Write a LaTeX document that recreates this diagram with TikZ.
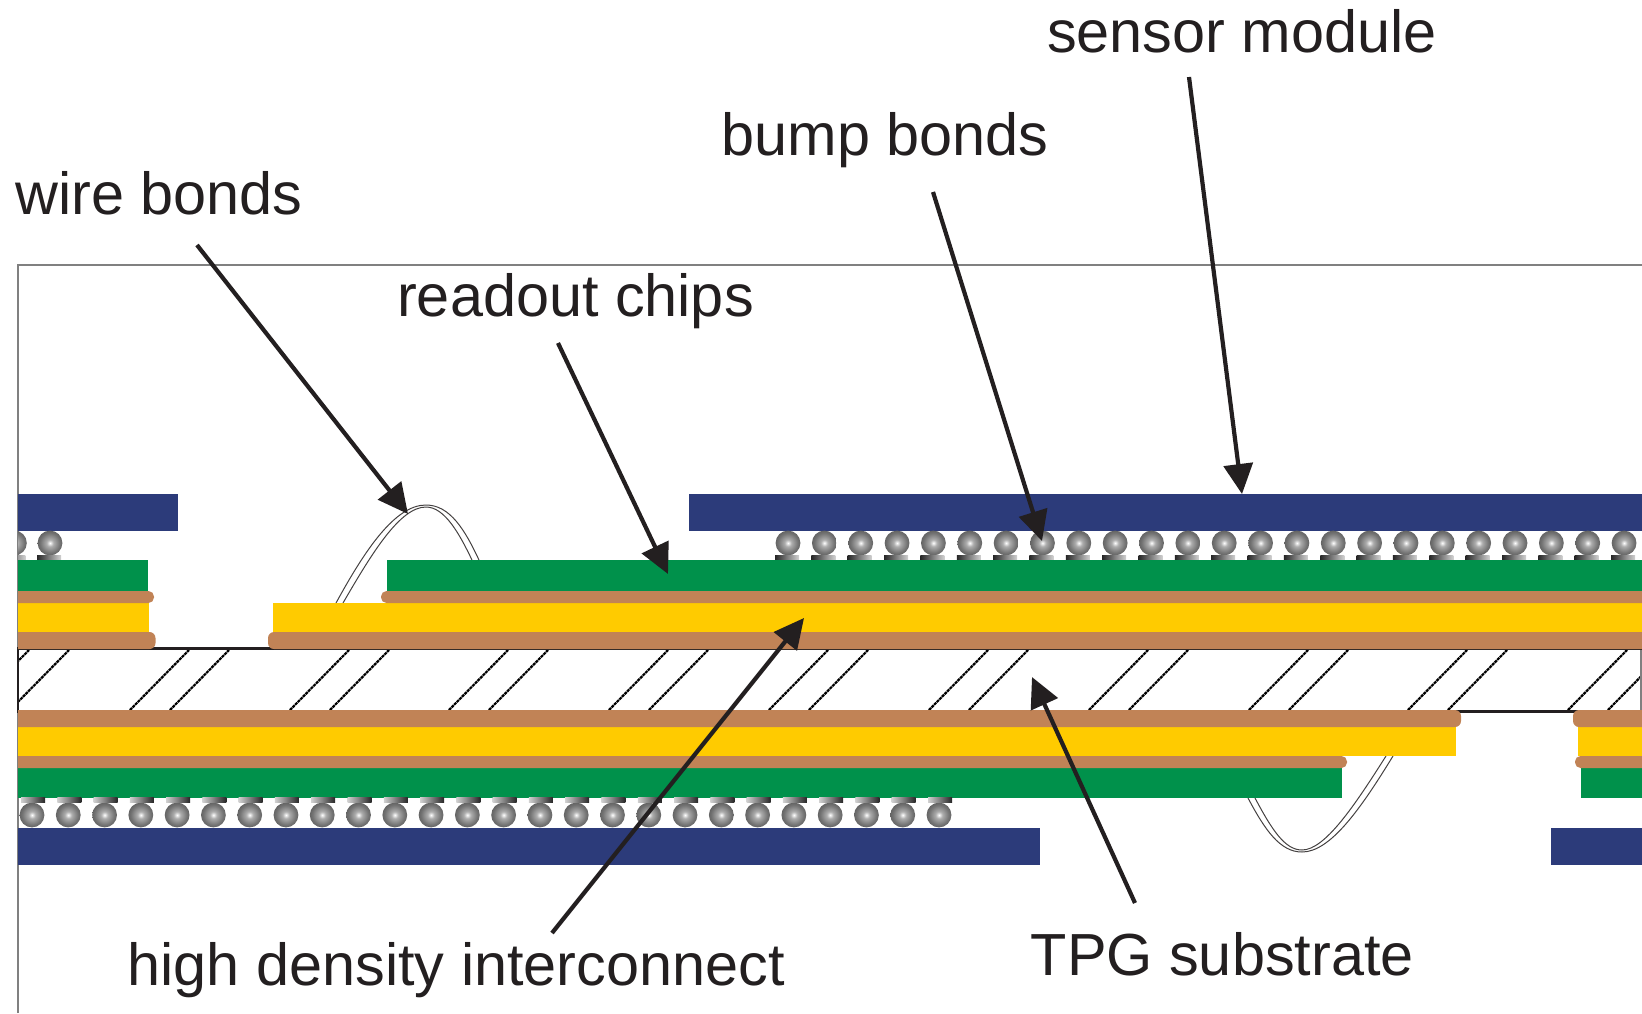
\documentclass[tikz,border=0pt]{standalone}
\usepackage{fontspec}
\setmainfont{Liberation Sans}
\usetikzlibrary{arrows.meta}
\definecolor{inkc}{HTML}{231F20}
\definecolor{bluec}{HTML}{2C3B7A}
\definecolor{greenc}{HTML}{00914B}
\definecolor{yellowc}{HTML}{FFCB00}
\definecolor{brownc}{HTML}{C18356}
\definecolor{framec}{HTML}{808080}
\pgfdeclareradialshading{bumpball}{\pgfpoint{0bp}{0bp}}{
  color(0bp)=(white);
  color(7bp)=(black!32);
  color(20bp)=(black!55);
  color(32bp)=(black!68);
  color(42bp)=(black!80);
  color(47bp)=(black!90);
  color(50bp)=(black!97)}
\tikzset{
  label text/.style={anchor=base west,inner sep=0pt,text=inkc,font=\fontsize{59.4}{61}\selectfont},
  pointer/.style={draw=inkc,line width=4.2pt,-{Triangle[length=30pt,width=29pt]}},
  wire/.style={draw=inkc!85,line width=1pt},
  hatchline/.style={draw=black,line width=2.2pt,dash pattern=on 3pt off 0.7pt},
  outline/.style={draw=inkc,line width=2.8pt},
  frameline/.style={draw=framec,line width=1.1pt},
}
\newcommand{\topbump}[1]{%
  \shade[shading=bumpball] (#1,543) circle[radius=12.4pt];
  \shade[left color=black!85,right color=black!18] (#1-13,555) rectangle (#1+11,560);}
\newcommand{\lowbump}[1]{%
  \shade[shading=bumpball] (#1,815) circle[radius=12.4pt];
  \shade[left color=black!18,right color=black!85] (#1-11,797) rectangle (#1+13,802);}
\begin{document}
\begin{tikzpicture}[x=1pt,y=-1pt]
\useasboundingbox (0,0) rectangle (1642,1013);
% frame
\draw[frameline] (18,1013) -- (18,265) -- (1642,265);
% substrate
\begin{scope}
  \clip (18,649) rectangle (1642,711);
  \foreach \b in {-30,10,130,170,290,330,449,489,609,649,769,809,929,969,1089,1129,1249,1289,1408,1448,1568,1608}
    \draw[hatchline] (\b,710) -- (\b+59,650);
\end{scope}
\draw[frameline] (1641,649) -- (1641,711);
\draw[outline] (1642,648.6) -- (18,648.6) -- (18,711.4) -- (1642,711.4);
% wire bonds
\draw[wire] (336,603) .. controls (365,550) and (395,505) .. (426,505) .. controls (450,505) and (465,530) .. (479,560);
\draw[wire] (343,603) .. controls (372,553) and (400,507) .. (426,507) .. controls (445,507) and (460,535) .. (472,560);
\draw[wire] (1393,756) .. controls (1360,810) and (1330,852) .. (1302,852) .. controls (1280,852) and (1265,830) .. (1248,798);
\draw[wire] (1386,756) .. controls (1355,805) and (1325,850) .. (1302,850) .. controls (1285,850) and (1272,830) .. (1255,798);
% upper stack
\fill[bluec] (18,494) rectangle (178,531);
\fill[bluec] (689,494) rectangle (1642,531);
\begin{scope}
  \clip (18,480) rectangle (1642,565);
  \topbump{14.4}
  \topbump{50}
  \foreach \i in {0,...,23} {\pgfmathsetmacro{\cx}{788+36.35*\i}\topbump{\cx}}
\end{scope}
\fill[greenc] (18,560) rectangle (148,591);
\fill[greenc] (387,560) rectangle (1642,591);
\fill[yellowc] (18,603) rectangle (149,632);
\fill[yellowc] (273,603) rectangle (1642,632);
\fill[brownc,rounded corners=5.5pt] (18,591) -- (154,591) -- (154,603) -- (18,603);
\fill[brownc,rounded corners=5.5pt] (1642,591) -- (381,591) -- (381,603) -- (1642,603);
\fill[brownc,rounded corners=6pt] (18,632) -- (155.5,632) -- (155.5,649) -- (18,649);
\fill[brownc,rounded corners=6pt] (1642,632) -- (268,632) -- (268,649) -- (1642,649);
% lower stack
\fill[yellowc] (18,727) rectangle (1456,756);
\fill[yellowc] (1578,727) rectangle (1642,756);
\fill[greenc] (18,768) rectangle (1342,798);
\fill[greenc] (1581,768) rectangle (1642,798);
\fill[brownc,rounded corners=6pt] (18,710) -- (1461,710) -- (1461,727) -- (18,727);
\fill[brownc,rounded corners=6pt] (1642,710) -- (1573,710) -- (1573,727) -- (1642,727);
\fill[brownc,rounded corners=5.5pt] (18,756) -- (1347,756) -- (1347,768) -- (18,768);
\fill[brownc,rounded corners=5.5pt] (1642,756) -- (1575,756) -- (1575,768) -- (1642,768);
\fill[bluec] (18,828) rectangle (1040,865);
\fill[bluec] (1551,828) rectangle (1642,865);
\foreach \i in {0,...,25} {\pgfmathsetmacro{\cx}{32+36.28*\i}\lowbump{\cx}}
% labels
\node[label text] (sensor) at (1047,52) {sensor module};
\node[label text] (bump) at (721.5,155) {bump bonds};
\node[label text] (wirel) at (15,214) {wire bonds};
\node[label text] (readout) at (397,316) {readout chips};
\node[label text] (hdi) at (127.5,985) {high density interconnect};
\node[label text] (tpg) at (1030.5,975) {TPG substrate};
% pointers
\coordinate (sensorS) at (1189,77);   \coordinate (sensorT) at (1242,494);
\coordinate (bumpS) at (933,192);     \coordinate (bumpT) at (1042,541);
\coordinate (wireS) at (197,245);     \coordinate (wireT) at (408,514);
\coordinate (readS) at (558,343);     \coordinate (readT) at (668,574);
\coordinate (hdiS) at (552,933);      \coordinate (hdiT) at (804,618);
\coordinate (tpgS) at (1135,903);     \coordinate (tpgT) at (1032,677);
\draw[pointer] (sensorS) -- (sensorT);
\draw[pointer] (bumpS) -- (bumpT);
\draw[pointer] (wireS) -- (wireT);
\draw[pointer] (readS) -- (readT);
\draw[pointer] (hdiS) -- (hdiT);
\draw[pointer] (tpgS) -- (tpgT);
\end{tikzpicture}
\end{document}
